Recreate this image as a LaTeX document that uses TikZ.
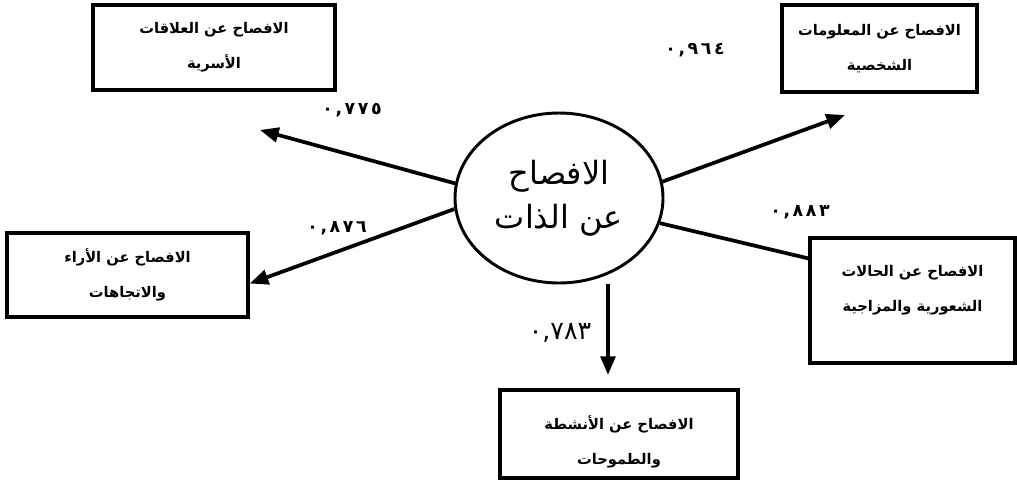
\documentclass[tikz,border=0pt]{standalone}
\usepackage{fontspec}
\usetikzlibrary{arrows.meta,shapes.geometric}
\TeXXeTstate=1
\newfontfamily\arabicfont[Script=Arabic]{DejaVu Sans}
\newfontfamily\numfont[LetterSpace=15]{DejaVu Sans}
\newfontfamily\bignumfont{DejaVu Sans}

\begin{document}
\begin{tikzpicture}[x=0.75pt,y=-0.75pt,
    box/.style={draw,line width=2.5pt,inner sep=0pt,align=center,
      font=\arabicfont\bfseries\fontsize{11}{26}\selectfont},
    link/.style={line width=2.8pt},
    arr/.style={link,-{Triangle[length=14pt,width=11pt]}},
    coef/.style={font=\numfont\bfseries\fontsize{13}{15}\selectfont}]
    \useasboundingbox (0,0) rectangle (1017,480);

    \node[draw,ellipse,line width=2.2pt,minimum width=156pt,minimum height=127.5pt,
      inner sep=0pt,align=center,font=\arabicfont\fontsize{24}{33}\selectfont]
      (self) at (559,198) {\beginR الافصاح\endR\\\beginR عن الذات\endR};

    \node[box,minimum width=181.5pt,minimum height=63.75pt] (relat) at (214,47.5)
      {\beginR الافصاح عن العلاقات\endR\\\beginR الأسرية\endR};
    \node[box,minimum width=146.25pt,minimum height=65.25pt] (info) at (879.5,48.5)
      {\beginR الافصاح عن المعلومات\endR\\\beginR الشخصية\endR};
    \node[box,minimum width=180.75pt,minimum height=63pt] (opin) at (127.5,275)
      {\beginR الافصاح عن الأراء\endR\\\beginR والاتجاهات\endR};
    \node[box,minimum width=153.75pt,minimum height=93.75pt] (mood) at (912.5,300.5)
      {\beginR الافصاح عن الحالات\endR\\\beginR الشعورية والمزاجية\endR\\[-15.5pt]\strut};
    \node[box,minimum width=178.5pt,minimum height=66pt] (act) at (619,434)
      {\strut\\[-22pt]\beginR الافصاح عن الأنشطة\endR\\\beginR والطموحات\endR};

    \coordinate (tipA) at (260,130);
    \coordinate (tipB) at (845,115);
    \coordinate (tipC) at (608,375);

    \draw[arr] (self.172) -- (tipA);
    \draw[arr] (self.186) -- (opin.-4);
    \draw[arr] (self.9) -- (tipB);
    \draw[link] (self.-14) -- (mood.158);
    \draw[arr] (tipC |- self.south) -- (tipC);

    \node[coef] (c775) at (352,110) {٠,٧٧٥};
    \node[coef] (c964) at (695,50) {٠,٩٦٤};
    \node[coef] (c876) at (337,228) {٠,٨٧٦};
    \node[coef] (c883) at (800,212) {٠,٨٨٣};
    \node[font=\bignumfont\fontsize{19}{21}\selectfont] (c783) at (560,333) {٠,٧٨٣};
  \end{tikzpicture}
\end{document}
